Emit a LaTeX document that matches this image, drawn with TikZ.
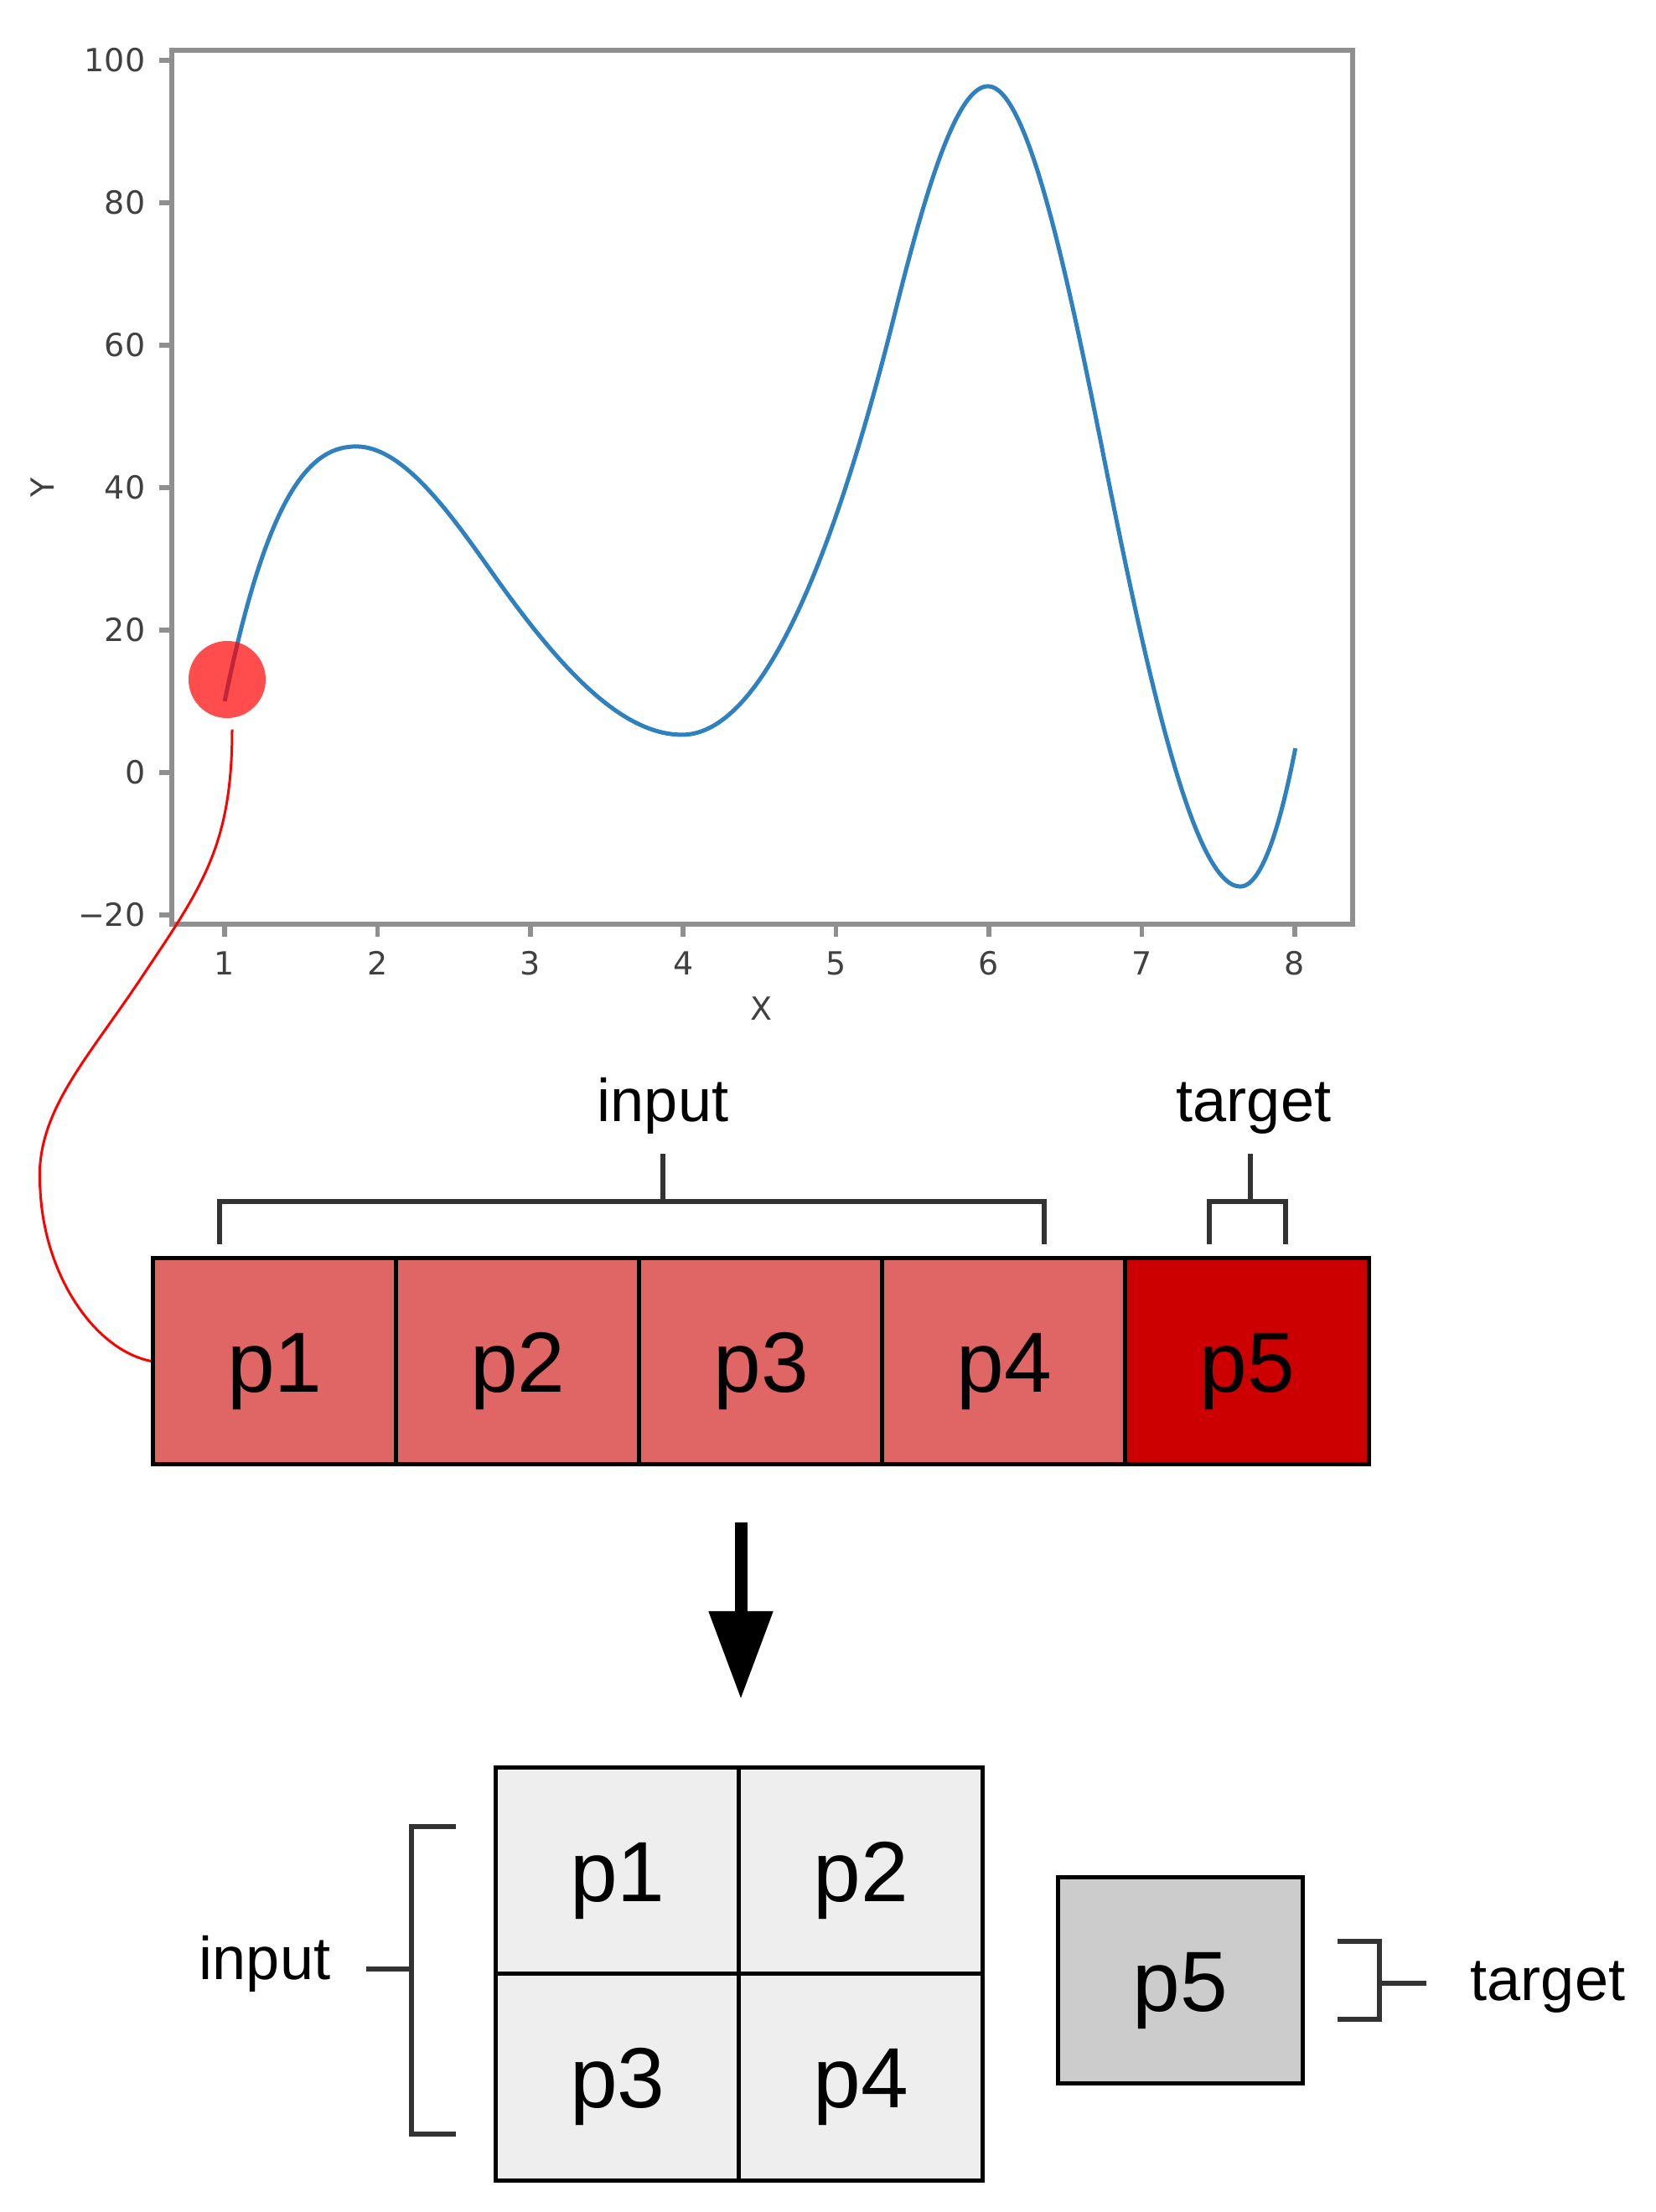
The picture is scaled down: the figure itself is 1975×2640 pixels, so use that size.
\documentclass[tikz,border=0pt]{standalone}
\usepackage{fontspec}
\setmainfont{Liberation Sans}
\newfontfamily\tickfont{DejaVu Sans}
\usetikzlibrary{arrows.meta,calc}
\definecolor{cellred}{HTML}{E06666}
\definecolor{cellredd}{HTML}{CC0000}
\definecolor{cellgray}{HTML}{EEEEEE}
\definecolor{cellgrayd}{HTML}{CCCCCC}
\definecolor{mplblue}{HTML}{2F80BE}
\definecolor{spinecol}{HTML}{8F8F8F}
\definecolor{ticklab}{HTML}{404040}
\definecolor{brk}{HTML}{333333}
\begin{document}
\begin{tikzpicture}[x=0.01cm,y=-0.01cm,
  cell/.style={draw=black,line width=0.05cm,minimum width=2.9cm,minimum height=2.46cm,
    inner sep=0pt,text height=0.73cm,text depth=0pt,font=\fontsize{29}{34}\selectfont},
  lab/.style={anchor=base,inner sep=0pt,font=\fontsize{20.5}{24}\selectfont},
  ticklabel/.style={inner sep=0pt,text=ticklab,font=\tickfont\fontsize{10.8}{13}\selectfont},
  spine/.style={draw=spinecol,line width=0.055cm},
  brace/.style={draw=brk,line width=0.055cm},
  redline/.style={draw=red,line width=0.03cm}
]
\useasboundingbox (0,0) rectangle (1975,2640);

% ---------- plot ----------
\draw[spine] (205,60) rectangle (1614,1103);
\foreach \yy/\lab [count=\i] in {1092/{−20},922/0,752/20,582/40,412/60,242/80,72/100}{
  \draw[spine] (190,\yy) -- (205,\yy);
  \node[ticklabel,anchor=east] (yl\i) at (174,\yy) {\lab};
}
\foreach \xx/\lab [count=\i] in {268/1,450.4/2,632.8/3,815.2/4,997.6/5,1180/6,1362.4/7,1544.8/8}{
  \draw[spine] (\xx,1103) -- (\xx,1118);
  \node[ticklabel,anchor=north] (xl\i) at (\xx,1135) {\lab};
}
\node[ticklabel] (xlab) at (908,1204) {X};
\node[ticklabel,rotate=90] (ylab) at (51,582) {Y};

\begin{scope}[shift={(85.6,922)},x=1.824cm,y=0.085cm]
\draw[mplblue,line width=0.05cm,line join=round]
  (1.0,10.0) .. controls (1.2867,40.1) and (1.5733,45.75) .. (1.86,45.75)
  .. controls (2.15,45.75) and (2.44,37.445) .. (2.73,28.6)
  .. controls (3.15,15.79) and (3.57,5.3) .. (3.99,5.3)
  .. controls (4.4533,5.3) and (4.9167,24.46) .. (5.38,64.3)
  .. controls (5.5833,81.79) and (5.7867,96.3) .. (5.99,96.3)
  .. controls (6.2433,96.3) and (6.4967,71.36) .. (6.75,44.0)
  .. controls (7.0467,11.96) and (7.3433,-16.0) .. (7.64,-16.0)
  .. controls (7.76,-16.0) and (7.88,-9.8) .. (8.0,3.4);
\end{scope}

\node[circle,fill=red,fill opacity=0.7,minimum size=0.92cm,inner sep=0pt] (dot) at (271,811) {};

% ---------- strip ----------
\node[cell,fill=cellred] (s1) at (328,1624.5) {p1};
\node[cell,fill=cellred] (s2) at (618,1624.5) {p2};
\node[cell,fill=cellred] (s3) at (908,1624.5) {p3};
\node[cell,fill=cellred] (s4) at (1198,1624.5) {p4};
\node[cell,fill=cellredd] (s5) at (1488,1624.5) {p5};

\draw[redline] ($(dot.south)+(6,13)$) .. controls (277,1010) and (240,1060) .. (170,1165)
  .. controls (100,1270) and (40,1330) .. (48,1420)
  .. controls (53,1525) and (115,1612) .. (s1.west);

\node[lab] (inTop) at (791,1338) {input};
\node[lab] (tgTop) at (1496,1338) {target};
\draw[brace] (262,1485) -- (262,1434) -- (1246,1434) -- (1246,1485);
\draw[brace] (791,1434) -- (791,1377);
\draw[brace] (1443,1485) -- (1443,1434) -- (1534,1434) -- (1534,1485);
\draw[brace] (1492,1434) -- (1492,1377);

% ---------- arrow ----------
\coordinate (atop) at (884,1817);
\coordinate (atip) at (884,2028);
\draw[line width=0.15cm,-{Triangle[length=1.05cm,width=0.73cm]}] (atop) -- (atip);

% ---------- bottom ----------
\node[cell,fill=cellgray] (g1) at (737,2233) {p1};
\node[cell,fill=cellgray] (g2) at (1027,2233) {p2};
\node[cell,fill=cellgray] (g3) at (737,2479) {p3};
\node[cell,fill=cellgray] (g4) at (1027,2479) {p4};
\node[cell,fill=cellgrayd,minimum width=2.91cm,minimum height=2.45cm] (t5) at (1408.5,2363.5) {p5};

\draw[brace] (544,2180) -- (491,2180) -- (491,2547) -- (544,2547);
\draw[brace] (491,2350) -- (437,2350);
\node[lab] (inBot) at (316,2362) {input};

\draw[brace] (1596,2317) -- (1646,2317) -- (1646,2410) -- (1596,2410);
\draw[brace] (1646,2367) -- (1702,2367);
\node[lab] (tgBot) at (1847,2387) {target};
\end{tikzpicture}
\end{document}
